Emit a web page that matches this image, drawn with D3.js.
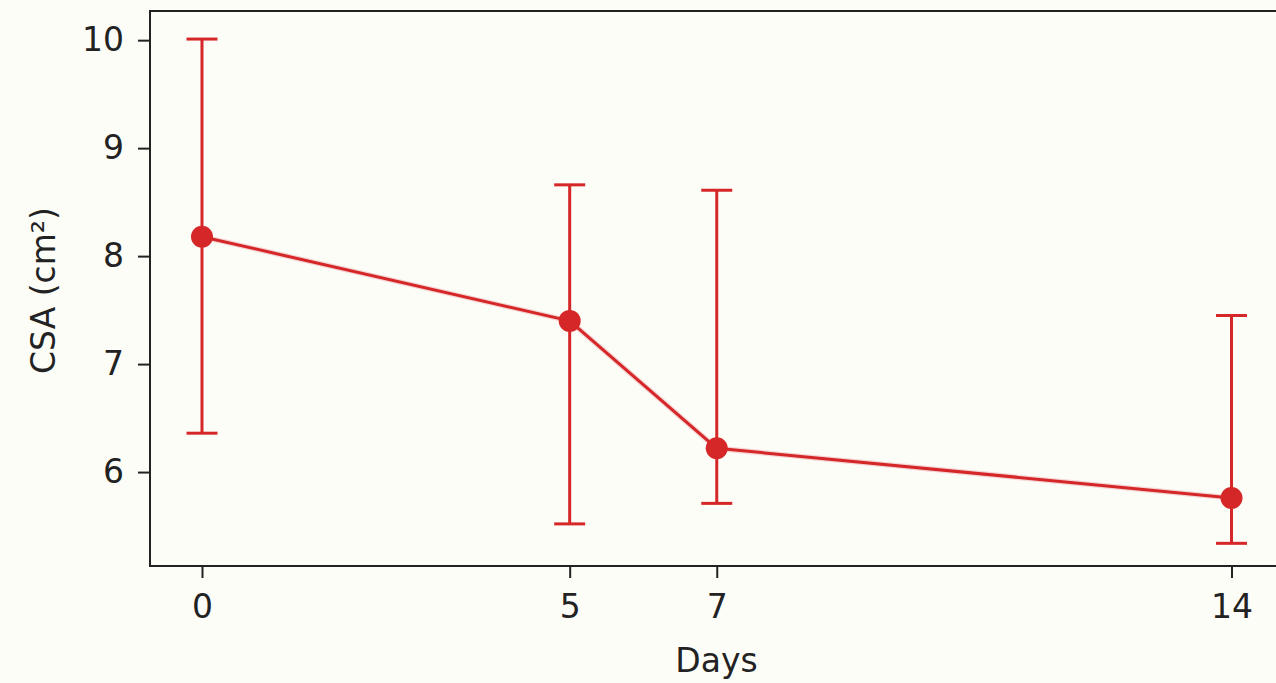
<!DOCTYPE html>
<html>
<head>
<meta charset="utf-8">
<script src="https://cdn.jsdelivr.net/npm/d3@7"></script>
<style>
  html, body { margin: 0; padding: 0; background: #fdfdf8; overflow: hidden; }
  svg { display: block; }
  text { font-family: "DejaVu Sans", sans-serif; fill: #222; }
</style>
</head>
<body>
<svg id="chart" width="1276" height="683"></svg>
<script>
const days = [0, 5, 7, 14];
const meanCSA = [8.18, 7.40, 6.22, 5.76];
const lowerCSA = [6.36, 5.52, 5.71, 5.34];
const upperCSA = [10.01, 8.66, 8.61, 7.45];
const xTicks = [0, 5, 7, 14];
const yTicks = [6, 7, 8, 9, 10];
const xLabel = "Days";
const yLabel = "CSA (cm²)";

(function () {
const svg = d3.select("#chart");
const W = 1276, H = 683;
const mLeft = 150, mTop = 11, mRight = 1283, mBottom = 566;
const red = "#d62728";

svg.append("rect").attr("width", W).attr("height", H).attr("fill", "#fdfdf8");

const x = d3.scaleLinear().domain([-0.707, 14.7]).range([mLeft, mRight]);
const y = d3.scaleLinear().domain([5.13, 10.27]).range([mBottom, mTop]);

svg.append("rect")
  .attr("x", mLeft).attr("y", mTop)
  .attr("width", mRight - mLeft).attr("height", mBottom - mTop)
  .attr("fill", "none").attr("stroke", "#222").attr("stroke-width", 2);

const xAxis = svg.append("g").attr("transform", `translate(0,${mBottom})`)
  .call(d3.axisBottom(x).tickValues(xTicks).tickFormat(d3.format("d")).tickSize(12).tickPadding(17));
const yAxis = svg.append("g").attr("transform", `translate(${mLeft},0)`)
  .call(d3.axisLeft(y).tickValues(yTicks).tickFormat(d3.format("d")).tickSize(12).tickPadding(14));
[xAxis, yAxis].forEach(g => {
  g.select(".domain").remove();
  g.selectAll(".tick line").attr("stroke", "#222").attr("stroke-width", 2);
  g.selectAll(".tick text").attr("font-size", 33).attr("fill", "#222")
    .style("font-family", "'DejaVu Sans', sans-serif");
});

const eb = svg.append("g");
days.forEach((d, i) => {
  eb.append("line")
    .attr("x1", x(d)).attr("x2", x(d))
    .attr("y1", y(lowerCSA[i])).attr("y2", y(upperCSA[i]))
    .attr("stroke", red).attr("stroke-width", 3);
  [lowerCSA[i], upperCSA[i]].forEach(v => {
    eb.append("line")
      .attr("x1", x(d) - 15.5).attr("x2", x(d) + 15.5)
      .attr("y1", y(v)).attr("y2", y(v))
      .attr("stroke", red).attr("stroke-width", 3);
  });
});

const line = d3.line().x((d, i) => x(days[i])).y(d => y(d));
svg.append("path").datum(meanCSA)
  .attr("d", line).attr("fill", "none")
  .attr("stroke", "#f4d6d6").attr("stroke-width", 5.5).attr("stroke-linejoin", "round");
svg.append("path").datum(meanCSA)
  .attr("d", line).attr("fill", "none")
  .attr("stroke", red).attr("stroke-width", 3).attr("stroke-linejoin", "round");

svg.append("g").selectAll("circle").data(meanCSA).join("circle")
  .attr("cx", (d, i) => x(days[i])).attr("cy", d => y(d))
  .attr("r", 11).attr("fill", red);

svg.append("text")
  .attr("x", (mLeft + mRight) / 2).attr("y", 672)
  .attr("text-anchor", "middle").attr("font-size", 33)
  .text(xLabel);
svg.append("text")
  .attr("transform", `translate(55,${(mTop + mBottom) / 2 + 2}) rotate(-90)`)
  .attr("text-anchor", "middle").attr("font-size", 33)
  .text(yLabel);
})();
</script>
</body>
</html>
